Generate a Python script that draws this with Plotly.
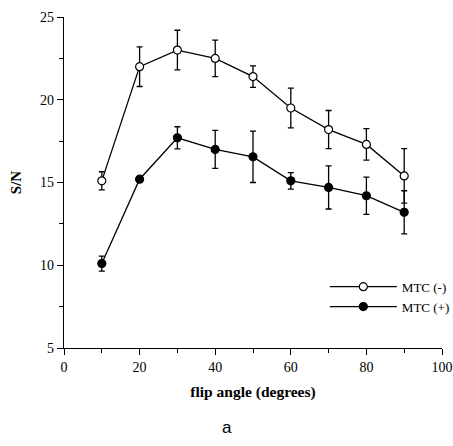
import plotly.graph_objects as go

flip_angle = [10, 20, 30, 40, 50, 60, 70, 80, 90]
mtc_minus = [15.1, 22.0, 23.0, 22.5, 21.4, 19.5, 18.2, 17.3, 15.4]
mtc_minus_err = [0.55, 1.2, 1.2, 1.1, 0.65, 1.2, 1.15, 0.95, 1.65]
mtc_plus = [10.1, 15.2, 17.7, 17.0, 16.55, 15.1, 14.7, 14.2, 13.2]
mtc_plus_err = [0.45, 0.15, 0.67, 1.15, 1.55, 0.5, 1.3, 1.13, 1.3]

serif = "Liberation Serif"

fig = go.Figure()
fig.add_trace(go.Scatter(
    x=flip_angle, y=mtc_minus, name="MTC (-)", mode="lines+markers",
    line=dict(color="black", width=1.3),
    marker=dict(symbol="circle", size=8, color="white", line=dict(color="black", width=1.2)),
    error_y=dict(type="data", array=mtc_minus_err, color="black", thickness=1.3, width=3),
    cliponaxis=False,
))
fig.add_trace(go.Scatter(
    x=flip_angle, y=mtc_plus, name="MTC (+)", mode="lines+markers",
    line=dict(color="black", width=1.3),
    marker=dict(symbol="circle", size=8, color="black", line=dict(color="black", width=1.2)),
    error_y=dict(type="data", array=mtc_plus_err, color="black", thickness=1.3, width=3),
    cliponaxis=False,
))

fig.update_layout(
    width=453, height=446,
    margin=dict(l=64, r=11, t=17, b=98, autoexpand=False),
    paper_bgcolor="white", plot_bgcolor="white",
    font=dict(family=serif, size=13, color="black"),
    showlegend=True,
    legend=dict(x=0.69, y=0.155, xanchor="left", yanchor="middle",
                bgcolor="rgba(0,0,0,0)", font=dict(family=serif, size=13),
                itemwidth=67, tracegroupgap=0),
    xaxis=dict(range=[0, 100], showgrid=False, zeroline=False, automargin=False,
               showline=True, linecolor="black", linewidth=1.3,
               ticks="outside", tickcolor="black", ticklen=6, tickwidth=1,
               tickvals=[0, 20, 40, 60, 80, 100],
               minor=dict(ticks="outside", ticklen=4, tickcolor="black", tickwidth=1, dtick=10, tick0=0),
               tickfont=dict(family=serif, size=14),
               title=dict(text="<b>flip angle (degrees)</b>", font=dict(family=serif, size=15.5), standoff=12)),
    yaxis=dict(range=[5, 25], showgrid=False, zeroline=False, automargin=False,
               showline=True, linecolor="black", linewidth=1.3,
               ticks="outside", tickcolor="black", ticklen=6, tickwidth=1,
               tickvals=[5, 10, 15, 20, 25],
               minor=dict(ticks="outside", ticklen=4, tickcolor="black", tickwidth=1, dtick=2.5, tick0=5),
               tickfont=dict(family=serif, size=14),
               title=dict(text="<b>S/N</b>", font=dict(family=serif, size=15), standoff=14)),
    annotations=[dict(text="a", xref="paper", yref="paper", x=0.43, y=-0.24,
                      showarrow=False, font=dict(family="Liberation Sans", size=17),
                      xanchor="center", yanchor="middle")],
)

fig.write_html("out.html", config={"displayModeBar": False},
               post_script="document.body.style.margin='0';document.body.style.overflow='hidden';")
